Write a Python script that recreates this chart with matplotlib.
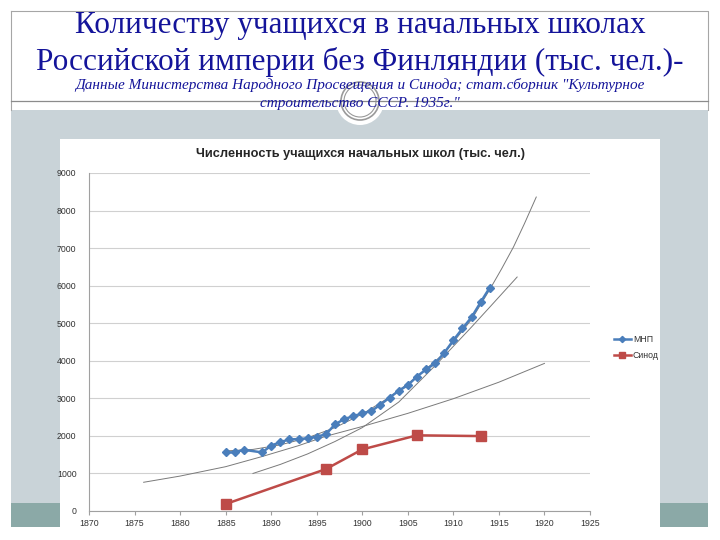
import matplotlib.pyplot as plt
from matplotlib.patches import Rectangle, Circle

# Students in primary schools, thousands
mnp_years = [1885, 1886, 1887, 1889, 1890, 1891, 1892, 1893, 1894, 1895, 1896,
             1897, 1898, 1899, 1900, 1901, 1902, 1903, 1904, 1905, 1906, 1907,
             1908, 1909, 1910, 1911, 1912, 1913, 1914]
mnp_values = [1560, 1560, 1630, 1560, 1740, 1835, 1905, 1915, 1935, 1980, 2040,
              2305, 2445, 2525, 2600, 2660, 2835, 3020, 3200, 3350, 3580, 3770,
              3930, 4210, 4545, 4860, 5160, 5560, 5950]

sinod_years = [1885, 1896, 1900, 1906, 1913]
sinod_values = [185, 1115, 1640, 2015, 1995]

# trend curves
trend1_years = [1876, 1880, 1885, 1889, 1893, 1896, 1900, 1905, 1910, 1915, 1920]
trend1_values = [765, 930, 1180, 1450, 1740, 1990, 2250, 2600, 2990, 3430, 3930]
trend2_years = [1888, 1891, 1894, 1897, 1900, 1904, 1908, 1912, 1914, 1917]
trend2_values = [1000, 1240, 1520, 1850, 2220, 2900, 3870, 4900, 5430, 6230]
trend3_years = [1885, 1888, 1891, 1894, 1897, 1900, 1903, 1906, 1909, 1912, 1914,
                1915.3, 1916.6, 1917.8, 1919.1]
trend3_values = [1600, 1640, 1760, 1950, 2220, 2580, 3030, 3570, 4200, 5100, 5900,
                 6450, 7030, 7650, 8360]

x_ticks = list(range(1870, 1926, 5))
y_ticks = list(range(0, 9001, 1000))

title_lines = ["Количеству учащихся в начальных школах",
               "Российской империи без Финляндии (тыс. чел.)-"]
subtitle_lines = ['Данные Министерства Народного Просвещения и Синода; стат.сборник "Культурное',
                  'строительство СССР. 1935г."']
chart_title = "Численность учащихся начальных школ (тыс. чел.)"

W, H = 720, 540
fig = plt.figure(figsize=(W / 100, H / 100), dpi=100)

# slide background drawn in pixel coordinates
bg = fig.add_axes([0, 0, 1, 1])
bg.set_xlim(0, W)
bg.set_ylim(H, 0)
bg.axis("off")
bg.add_patch(Rectangle((11, 110), 697, 395, facecolor="#c9d3d8", edgecolor="none"))
bg.add_patch(Rectangle((11, 503), 697, 24, facecolor="#8ba9a7", edgecolor="none"))
bg.plot([11, 708, 708], [11, 11, 110], color="#a6a6a6", lw=0.8)
bg.plot([11, 11], [11, 110], color="#a6a6a6", lw=0.8)
bg.plot([11, 708], [101, 101], color="#8c8c8c", lw=0.9)
bg.add_patch(Circle((360, 101), 24, facecolor="white", edgecolor="none"))
bg.add_patch(Circle((360, 101), 19, facecolor="none", edgecolor="#9a9a9a", lw=1.2))
bg.add_patch(Circle((360, 101), 16, facecolor="none", edgecolor="#9a9a9a", lw=0.8))
bg.add_patch(Rectangle((60, 139), 600, 401, facecolor="white", edgecolor="none"))

title_color = "#14149a"
bg.text(360, 26, title_lines[0], ha="center", va="center", fontsize=22.5,
        family="Liberation Serif", color=title_color)
bg.text(360, 62, title_lines[1], ha="center", va="center", fontsize=22.5,
        family="Liberation Serif", color=title_color)
bg.text(360, 85, subtitle_lines[0], ha="center", va="center", fontsize=11,
        family="Liberation Serif", style="italic", color=title_color)
bg.text(360, 104, subtitle_lines[1], ha="center", va="center", fontsize=11,
        family="Liberation Serif", style="italic", color=title_color)
bg.text(360, 154, chart_title, ha="center", va="center", fontsize=9.2,
        family="Liberation Sans", weight="bold", color="#262626")

# chart axes: x 1870..1925 -> px 89..590, y 0..9000 -> px 511..173
ax = fig.add_axes([89 / W, 1 - 511 / H, (590 - 89) / W, (511 - 173) / H])
ax.set_xlim(1870, 1925)
ax.set_ylim(0, 9000)
ax.set_facecolor("white")

trend_kw = dict(color="#7a7a7a", lw=0.7, zorder=2)
ax.plot(trend1_years, trend1_values, **trend_kw)
ax.plot(trend2_years, trend2_values, **trend_kw)
ax.plot(trend3_years, trend3_values, **trend_kw)

ax.plot(mnp_years, mnp_values, color="#4a7ebb", lw=1.8, marker="D", ms=4.2,
        mfc="#4a7ebb", mec="#4a7ebb", label="МНП", zorder=3)
ax.plot(sinod_years, sinod_values, color="#be4b48", lw=1.8, marker="s", ms=6.5,
        mfc="#be4b48", mec="#be4b48", label="Синод", zorder=3)

ax.set_xticks(x_ticks)
ax.set_yticks(y_ticks)
ax.grid(axis="y", color="#d0d0d0", lw=0.8)
ax.set_axisbelow(True)
for side in ["top", "right"]:
    ax.spines[side].set_visible(False)
for side in ["left", "bottom"]:
    ax.spines[side].set_color("#a0a0a0")
    ax.spines[side].set_linewidth(0.8)
ax.tick_params(axis="x", length=3, color="#a0a0a0", labelsize=6.3, labelcolor="#333333", pad=3)
ax.tick_params(axis="y", length=0, labelsize=6.3, labelcolor="#333333", pad=9)
for lab in ax.get_xticklabels() + ax.get_yticklabels():
    lab.set_family("Liberation Sans")

leg = ax.legend(loc="center left", bbox_to_anchor=((610 - 89) / (590 - 89), (511 - 348) / (511 - 173)),
                frameon=False, fontsize=6.3, handlelength=2.0, handletextpad=0.2,
                labelspacing=0.8, borderaxespad=0, markerscale=0.75)
for t in leg.get_texts():
    t.set_family("Liberation Sans")
    t.set_color("#333333")

fig.savefig("out.png", dpi=100)
